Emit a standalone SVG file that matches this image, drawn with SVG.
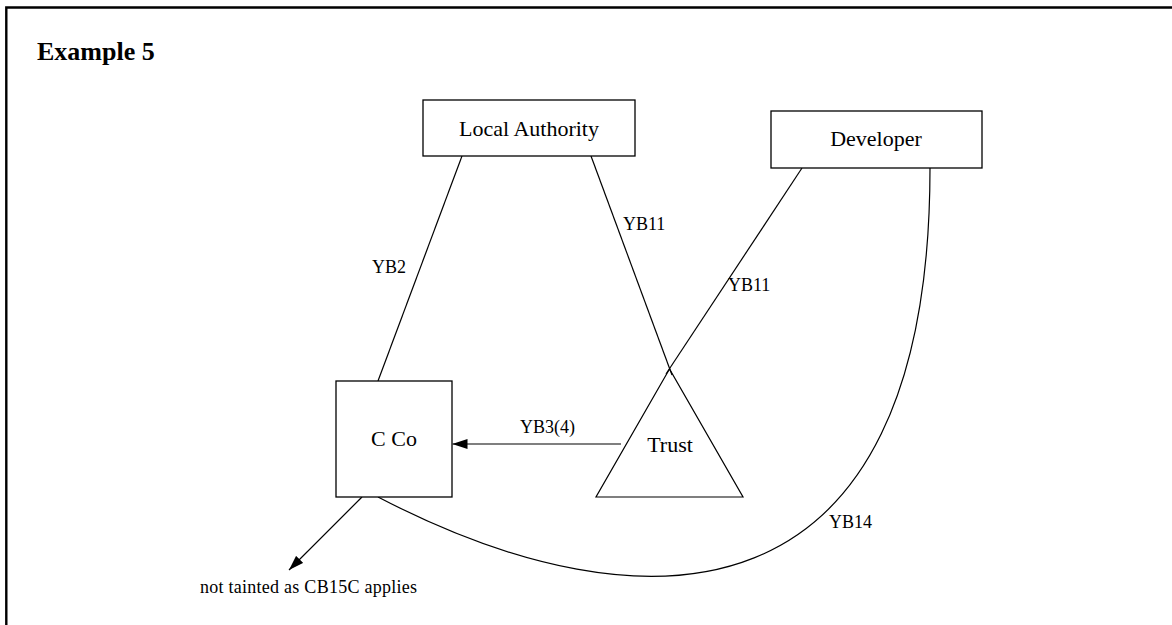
<svg xmlns="http://www.w3.org/2000/svg" width="1172" height="625" viewBox="0 0 1172 625">
  <style>
    .frame { stroke: #000; stroke-width: 2.4; fill: none; }
    .box { fill: #fff; stroke: #000; stroke-width: 1.3; }
    .edge { fill: none; stroke: #000; stroke-width: 1.2; }
    .title { font-family: "Liberation Serif", "Times New Roman", serif; font-weight: bold; font-size: 26px; fill: #000; }
    .name { font-family: "Liberation Serif", "Times New Roman", serif; font-size: 22px; fill: #000; text-anchor: middle; }
    .lbl { font-family: "Liberation Serif", "Times New Roman", serif; font-size: 18px; fill: #000; }
  </style>
  <defs>
    <marker id="arrow" viewBox="0 0 15 10" refX="15" refY="5" markerWidth="15" markerHeight="10" markerUnits="userSpaceOnUse" orient="auto">
      <path d="M0,0 L15,5 L0,10 Z" fill="#000"/>
    </marker>
  </defs>

  <rect width="1172" height="625" fill="#fff"/>

  <!-- outer frame: top and left rules only -->
  <path class="frame" d="M6.3,625 L6.3,7.5 L1172,7.5"/>

  <text class="title" x="37" y="60">Example 5</text>

  <!-- connectors -->
  <g id="connectors">
    <line class="edge" x1="462" y1="156" x2="378" y2="381"/>
    <line class="edge" x1="591" y1="156" x2="672" y2="375"/>
    <line class="edge" x1="802" y1="168" x2="666" y2="374"/>
    <path class="edge" d="M378,497 C645,636 930,630 930,168"/>
    <line class="edge" x1="621" y1="444" x2="452.5" y2="444" marker-end="url(#arrow)"/>
    <line class="edge" x1="362" y1="497" x2="289" y2="570" marker-end="url(#arrow)"/>
    <text class="lbl" x="372" y="273">YB2</text>
    <text class="lbl" x="623" y="230">YB11</text>
    <text class="lbl" x="728" y="291">YB11</text>
    <text class="lbl" x="520" y="433">YB3(4)</text>
    <text class="lbl" x="829" y="528">YB14</text>
  </g>

  <g id="local-authority">
    <rect class="box" x="423" y="100" width="212" height="56"/>
    <text class="name" x="529" y="136">Local Authority</text>
  </g>

  <g id="developer">
    <rect class="box" x="771" y="111" width="211" height="57"/>
    <text class="name" x="876" y="146">Developer</text>
  </g>

  <g id="c-co">
    <rect class="box" x="336" y="381" width="116" height="116"/>
    <text class="name" x="394" y="446">C Co</text>
  </g>

  <g id="trust">
    <path class="edge" d="M669.5,369 L596,497 L743,497 Z"/>
    <text class="name" x="670" y="452">Trust</text>
  </g>

  <g id="outcome">
    <text class="lbl" x="200" y="593" textLength="217">not tainted as CB15C applies</text>
  </g>
</svg>
